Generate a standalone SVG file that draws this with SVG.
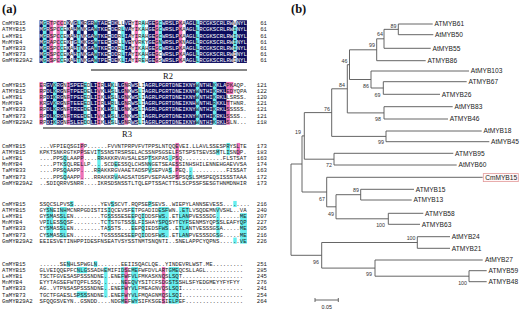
<svg xmlns="http://www.w3.org/2000/svg" width="520" height="310" viewBox="0 0 520 310">
<style>
.s{font-family:"Liberation Mono","Courier New",monospace;font-size:5.67px;fill:#1a1a1a}
.num{font-family:"Liberation Mono","Courier New",monospace;font-size:5.67px;fill:#1a1a1a;text-anchor:end}
.w{fill:#fff}
.n{fill:#0b0b5e}
.c{fill:#66eeee}
.p{fill:#ee70b8}
.pl{font-family:"Liberation Serif","Times New Roman",serif;font-weight:bold;font-size:12.5px;fill:#111}
.rl{font-family:"Liberation Serif","Times New Roman",serif;font-size:8.5px;fill:#111;text-anchor:middle}
.t{font-family:"Liberation Sans",Arial,sans-serif;font-size:6.6px;fill:#222}
.bs{font-family:"Liberation Sans",Arial,sans-serif;font-size:5.3px;fill:#333;text-anchor:end}
.br{stroke:#555;stroke-width:0.9;fill:none}
</style>
<rect width="520" height="310" fill="#fff"/>
<text class="pl" x="2" y="13">(a)</text>
<text class="pl" x="291" y="13">(b)</text>

<g id="alignment">
<g id="b1-hl">
<rect class="n" x="39.5" y="20.25" width="3.4" height="42.7"/>
<rect class="n" x="46.3" y="20.25" width="3.4" height="42.7"/>
<rect class="n" x="66.7" y="20.25" width="3.4" height="42.7"/>
<rect class="n" x="73.5" y="20.25" width="3.4" height="42.7"/>
<rect class="n" x="80.3" y="20.25" width="3.4" height="42.7"/>
<rect class="n" x="87.1" y="20.25" width="6.8" height="42.7"/>
<rect class="n" x="97.3" y="20.25" width="10.2" height="42.7"/>
<rect class="n" x="110.9" y="20.25" width="6.8" height="42.7"/>
<rect class="n" x="124.5" y="20.25" width="6.8" height="42.7"/>
<rect class="n" x="148.3" y="20.25" width="6.8" height="42.7"/>
<rect class="n" x="161.9" y="20.25" width="17" height="42.7"/>
<rect class="n" x="185.7" y="20.25" width="10.2" height="42.7"/>
<rect class="n" x="199.3" y="20.25" width="34" height="42.7"/>
<rect class="n" x="236.7" y="20.25" width="10.2" height="42.7"/>
<rect class="c" x="42.9" y="20.25" width="3.4" height="42.7"/>
<rect class="c" x="59.9" y="26.35" width="3.4" height="36.6"/>
<rect class="p" x="59.9" y="20.25" width="3.4" height="6.1"/>
<rect class="c" x="76.9" y="20.25" width="3.4" height="42.7"/>
<rect class="c" x="93.9" y="20.25" width="3.4" height="42.7"/>
<rect class="c" x="121.1" y="26.35" width="3.4" height="36.6"/>
<rect class="c" x="141.5" y="20.25" width="3.4" height="42.7"/>
<rect class="c" x="158.5" y="20.25" width="3.4" height="30.5"/>
<rect class="c" x="195.9" y="20.25" width="3.4" height="42.7"/>
<rect class="c" x="233.3" y="26.35" width="3.4" height="24.4"/>
<rect class="p" x="49.7" y="20.25" width="3.4" height="42.7"/>
<rect class="p" x="56.5" y="20.25" width="3.4" height="42.7"/>
<rect class="p" x="134.7" y="20.25" width="3.4" height="42.7"/>
<rect class="p" x="155.1" y="20.25" width="3.4" height="42.7"/>
<rect class="p" x="178.9" y="20.25" width="3.4" height="42.7"/>
</g>
<g id="b1-text">
<text class="s" x="2" y="25.3">CmMYB15</text>
<text class="s" x="2" y="31.4">ATMYB15</text>
<text class="s" x="2" y="37.5">LeMYB1</text>
<text class="s" x="2" y="43.6">MnMYB4</text>
<text class="s" x="2" y="49.7">TaMYB33</text>
<text class="s" x="2" y="55.8">TaMYB73</text>
<text class="s" x="2" y="61.9">GmMYB29A2</text>
<text class="s" x="39.5" y="25.3"><tspan class="w">M</tspan>G<tspan class="w">R</tspan>TPCCD<tspan class="w">K</tspan>V<tspan class="w">G</tspan>L<tspan class="w">K</tspan>R<tspan class="w">GR</tspan>W<tspan class="w">TAE</tspan>E<tspan class="w">DK</tspan>LL<tspan class="w">VE</tspan>YIRAH<tspan class="w">GE</tspan>GC<tspan class="w">WRSLP</tspan>KA<tspan class="w">AGL</tspan>L<tspan class="w">RCGKSCRLRW</tspan>V<tspan class="w">NYL</tspan></text>
<text class="s" x="39.5" y="31.4"><tspan class="w">M</tspan>G<tspan class="w">R</tspan>SPCCE<tspan class="w">K</tspan>A<tspan class="w">H</tspan>M<tspan class="w">N</tspan>K<tspan class="w">GA</tspan>W<tspan class="w">TKE</tspan>E<tspan class="w">DE</tspan>RL<tspan class="w">VA</tspan>YIKAH<tspan class="w">GE</tspan>GC<tspan class="w">WRSLP</tspan>KA<tspan class="w">AGL</tspan>L<tspan class="w">RCGKSCRLRW</tspan>I<tspan class="w">NYL</tspan></text>
<text class="s" x="39.5" y="37.5"><tspan class="w">M</tspan>G<tspan class="w">R</tspan>SPCCE<tspan class="w">K</tspan>A<tspan class="w">H</tspan>T<tspan class="w">N</tspan>K<tspan class="w">GA</tspan>W<tspan class="w">TKE</tspan>E<tspan class="w">DD</tspan>RL<tspan class="w">IA</tspan>YIRAH<tspan class="w">GE</tspan>GC<tspan class="w">WRSLP</tspan>KA<tspan class="w">AGL</tspan>L<tspan class="w">RCGKSCRLRW</tspan>I<tspan class="w">NYL</tspan></text>
<text class="s" x="39.5" y="43.6"><tspan class="w">M</tspan>G<tspan class="w">R</tspan>APCCE<tspan class="w">K</tspan>T<tspan class="w">G</tspan>L<tspan class="w">K</tspan>K<tspan class="w">GS</tspan>W<tspan class="w">TEE</tspan>E<tspan class="w">DR</tspan>LL<tspan class="w">VE</tspan>YVRKY<tspan class="w">GE</tspan>GN<tspan class="w">WRSLP</tspan>KN<tspan class="w">AGL</tspan>L<tspan class="w">RCGKSCRLRW</tspan>I<tspan class="w">NYL</tspan></text>
<text class="s" x="39.5" y="49.7"><tspan class="w">M</tspan>G<tspan class="w">R</tspan>SPCCE<tspan class="w">K</tspan>A<tspan class="w">H</tspan>T<tspan class="w">N</tspan>K<tspan class="w">GA</tspan>W<tspan class="w">TKE</tspan>E<tspan class="w">DQ</tspan>RL<tspan class="w">IA</tspan>YIKAH<tspan class="w">GE</tspan>GC<tspan class="w">WRSLP</tspan>KA<tspan class="w">AGL</tspan>L<tspan class="w">RCGKSCRLRW</tspan>I<tspan class="w">NYL</tspan></text>
<text class="s" x="39.5" y="55.8"><tspan class="w">M</tspan>G<tspan class="w">R</tspan>SPCCE<tspan class="w">K</tspan>A<tspan class="w">H</tspan>T<tspan class="w">N</tspan>K<tspan class="w">GA</tspan>W<tspan class="w">TKE</tspan>E<tspan class="w">DD</tspan>RL<tspan class="w">TA</tspan>YIKAH<tspan class="w">GE</tspan>GC<tspan class="w">WRSLP</tspan>KA<tspan class="w">AGL</tspan>L<tspan class="w">RCGKSCRLRW</tspan>I<tspan class="w">NYL</tspan></text>
<text class="s" x="39.5" y="61.9"><tspan class="w">M</tspan>G<tspan class="w">R</tspan>SPCCE<tspan class="w">K</tspan>A<tspan class="w">H</tspan>T<tspan class="w">N</tspan>K<tspan class="w">GA</tspan>W<tspan class="w">TPE</tspan>E<tspan class="w">DE</tspan>KL<tspan class="w">IA</tspan>YIREH<tspan class="w">GE</tspan>GS<tspan class="w">WRSLP</tspan>KA<tspan class="w">AGL</tspan>L<tspan class="w">RCGKSCRLRW</tspan>I<tspan class="w">NYL</tspan></text>
<text class="num" x="267" y="25.3">61</text>
<text class="num" x="267" y="31.4">61</text>
<text class="num" x="267" y="37.5">61</text>
<text class="num" x="267" y="43.6">61</text>
<text class="num" x="267" y="49.7">61</text>
<text class="num" x="267" y="55.8">61</text>
<text class="num" x="267" y="61.9">61</text>
</g>
<line x1="91" y1="70" x2="247" y2="70" stroke="#111" stroke-width="1.1"/>
<text class="rl" x="168" y="79">R2</text>

<g id="b2-hl">
<rect class="n" x="46.3" y="81.95" width="6.8" height="42.7"/>
<rect class="n" x="56.5" y="81.95" width="6.8" height="42.7"/>
<rect class="n" x="70.1" y="81.95" width="13.6" height="42.7"/>
<rect class="n" x="90.5" y="81.95" width="6.8" height="42.7"/>
<rect class="n" x="104.1" y="81.95" width="6.8" height="42.7"/>
<rect class="n" x="117.7" y="81.95" width="6.8" height="42.7"/>
<rect class="n" x="131.3" y="81.95" width="6.8" height="42.7"/>
<rect class="n" x="144.9" y="81.95" width="51" height="42.7"/>
<rect class="n" x="199.3" y="81.95" width="13.6" height="42.7"/>
<rect class="n" x="216.3" y="81.95" width="10.2" height="42.7"/>
<rect class="c" x="53.1" y="81.95" width="3.4" height="42.7"/>
<rect class="c" x="83.7" y="81.95" width="3.4" height="42.7"/>
<rect class="c" x="110.9" y="81.95" width="3.4" height="42.7"/>
<rect class="c" x="138.1" y="88.05" width="3.4" height="36.6"/>
<rect class="c" x="195.9" y="81.95" width="3.4" height="42.7"/>
<rect class="c" x="212.9" y="81.95" width="3.4" height="42.7"/>
<rect class="p" x="39.5" y="81.95" width="3.4" height="42.7"/>
<rect class="p" x="66.7" y="81.95" width="3.4" height="42.7"/>
<rect class="p" x="97.3" y="81.95" width="3.4" height="42.7"/>
<rect class="p" x="124.5" y="81.95" width="3.4" height="42.7"/>
<rect class="p" x="226.5" y="81.95" width="6.8" height="12.2"/>
<rect class="p" x="226.5" y="100.25" width="3.4" height="24.4"/>
</g>
<g id="b2-text">
<text class="s" x="2" y="87">CmMYB15</text>
<text class="s" x="2" y="93.1">ATMYB15</text>
<text class="s" x="2" y="99.2">LeMYB1</text>
<text class="s" x="2" y="105.3">MnMYB4</text>
<text class="s" x="2" y="111.4">TaMYB33</text>
<text class="s" x="2" y="117.5">TaMYB73</text>
<text class="s" x="2" y="123.6">GmMYB29A2</text>
<text class="s" x="39.5" y="87">ER<tspan class="w">GV</tspan>K<tspan class="w">RG</tspan>NI<tspan class="w">SPEE</tspan>ED<tspan class="w">LI</tspan>IR<tspan class="w">LH</tspan>KL<tspan class="w">LG</tspan>NR<tspan class="w">WS</tspan>LI<tspan class="w">AGRLPGRTDNEIKNY</tspan>W<tspan class="w">NTHL</tspan>K<tspan class="w">KLA</tspan>PKAQP.</text>
<text class="s" x="39.5" y="93.1">RP<tspan class="w">DL</tspan>K<tspan class="w">RG</tspan>NF<tspan class="w">TPEE</tspan>DE<tspan class="w">LI</tspan>VK<tspan class="w">LH</tspan>SL<tspan class="w">LG</tspan>NK<tspan class="w">WS</tspan>LI<tspan class="w">AGRLPGRTDNEIKNY</tspan>W<tspan class="w">NTHI</tspan>K<tspan class="w">RKL</tspan>EDYQPA</text>
<text class="s" x="39.5" y="99.2">RP<tspan class="w">DI</tspan>K<tspan class="w">RG</tspan>NF<tspan class="w">TPEE</tspan>ED<tspan class="w">LI</tspan>IK<tspan class="w">LH</tspan>SL<tspan class="w">LG</tspan>NK<tspan class="w">WS</tspan>LI<tspan class="w">AGRLPGRTDNEIKNY</tspan>W<tspan class="w">NTHI</tspan>K<tspan class="w">RKL</tspan>LSRSS.</text>
<text class="s" x="39.5" y="105.3">KR<tspan class="w">GV</tspan>K<tspan class="w">RG</tspan>NF<tspan class="w">TEEE</tspan>ED<tspan class="w">LI</tspan>IR<tspan class="w">LH</tspan>RL<tspan class="w">LG</tspan>NR<tspan class="w">WS</tspan>LI<tspan class="w">AGRLPGRTDNEIKNH</tspan>W<tspan class="w">NTHL</tspan>R<tspan class="w">KKL</tspan>TTHNR.</text>
<text class="s" x="39.5" y="111.4">RP<tspan class="w">DL</tspan>K<tspan class="w">RG</tspan>NF<tspan class="w">TREE</tspan>DE<tspan class="w">LI</tspan>IK<tspan class="w">LH</tspan>SL<tspan class="w">LG</tspan>NK<tspan class="w">WS</tspan>LI<tspan class="w">AGRLPGRTDNEIKNY</tspan>W<tspan class="w">NTHI</tspan>K<tspan class="w">RKL</tspan>SSSSS.</text>
<text class="s" x="39.5" y="117.5">RP<tspan class="w">DL</tspan>K<tspan class="w">RG</tspan>NF<tspan class="w">TREE</tspan>DE<tspan class="w">LI</tspan>VK<tspan class="w">LH</tspan>SL<tspan class="w">LG</tspan>NK<tspan class="w">WS</tspan>LI<tspan class="w">AGRLPGRTDNEIKNY</tspan>W<tspan class="w">NTHI</tspan>K<tspan class="w">RKL</tspan>SSSS..</text>
<text class="s" x="39.5" y="123.6">RP<tspan class="w">DI</tspan>K<tspan class="w">RG</tspan>NF<tspan class="w">SLEE</tspan>DD<tspan class="w">LI</tspan>IK<tspan class="w">LH</tspan>SL<tspan class="w">LG</tspan>NR<tspan class="w">WS</tspan>LI<tspan class="w">AGRLPGRTDNEIKNY</tspan>W<tspan class="w">NTHI</tspan>K<tspan class="w">RKL</tspan>SLN...</text>
<text class="num" x="267" y="87">121</text>
<text class="num" x="267" y="93.1">122</text>
<text class="num" x="267" y="99.2">120</text>
<text class="num" x="267" y="105.3">121</text>
<text class="num" x="267" y="111.4">121</text>
<text class="num" x="267" y="117.5">121</text>
<text class="num" x="267" y="123.6">118</text>
</g>
<line x1="43" y1="128" x2="212" y2="128" stroke="#111" stroke-width="1.1"/>
<text class="rl" x="127" y="136.5">R3</text>

<g id="b3-hl">
<rect class="p" x="80.3" y="142.95" width="3.4" height="36.6"/>
<rect class="c" x="63.3" y="155.15" width="3.4" height="24.4"/>
<rect class="c" x="97.3" y="149.05" width="3.4" height="24.4"/>
<rect class="c" x="114.3" y="161.25" width="3.4" height="6.1"/>
<rect class="c" x="114.3" y="173.45" width="3.4" height="6.1"/>
<rect class="c" x="148.3" y="155.15" width="3.4" height="18.3"/>
<rect class="c" x="168.7" y="155.15" width="3.4" height="6.1"/>
<rect class="c" x="168.7" y="167.35" width="3.4" height="6.1"/>
<rect class="p" x="175.5" y="142.95" width="3.4" height="36.6"/>
<rect class="c" x="189.1" y="167.35" width="3.4" height="12.2"/>
<rect class="c" x="216.3" y="149.05" width="3.4" height="6.1"/>
<rect class="c" x="226.5" y="142.95" width="3.4" height="12.2"/>
<rect class="p" x="236.7" y="142.95" width="3.4" height="12.2"/>
</g>
<g id="b3-text">
<text class="s" x="2" y="148">CmMYB15</text>
<text class="s" x="2" y="154.1">ATMYB15</text>
<text class="s" x="2" y="160.2">LeMYB1</text>
<text class="s" x="2" y="166.3">MnMYB4</text>
<text class="s" x="2" y="172.4">TaMYB33</text>
<text class="s" x="2" y="178.5">TaMYB73</text>
<text class="s" x="2" y="184.6">GmMYB29A2</text>
<text class="s" x="39.5" y="148">...VFPIEQSGIPP......FVVNTPRPVFVTPPSLNTQQEVEI.LLAVLSSESPRYSLTE</text>
<text class="s" x="39.5" y="154.1">KPKTSNKRGTKPPSEVITSSNSTRSRSELACSSNPSGSELFSTSPSTSEVSSMTLISNDP.</text>
<text class="s" x="39.5" y="160.2">....PPSQLAAPP....RRAKKRVAVSALESPTSKPAS.PSQ............FLSTSAT</text>
<text class="s" x="39.5" y="166.3">....PTKSQLRELLP....SCDEESSQLCHSNNGETSEAESSINHSHILENNEHGAEVVSA</text>
<text class="s" x="39.5" y="172.4">....PPSQAAPP....RRAKKRGVAAETADSPVSEPVAS.PEQ............FISSAT</text>
<text class="s" x="39.5" y="178.5">....PPSQAAPP....RRAKKRVAAGSATDSPVSEPAASPSPSQSLSMSPEQSISSSTAAA</text>
<text class="s" x="39.5" y="184.6">..SDIQRRVSNRR....IKRSDSNSSTLTQLEPTSSACTTSLSCPSSFSESGTHNMDNHIR</text>
<text class="num" x="267" y="148">173</text>
<text class="num" x="267" y="154.1">183</text>
<text class="num" x="267" y="160.2">163</text>
<text class="num" x="267" y="166.3">174</text>
<text class="num" x="267" y="172.4">163</text>
<text class="num" x="267" y="178.5">172</text>
<text class="num" x="267" y="184.6">173</text>
</g>

<g id="b4-hl">
<rect class="c" x="46.3" y="207.05" width="6.8" height="30.5"/>
<rect class="c" x="59.9" y="207.05" width="6.8" height="30.5"/>
<rect class="c" x="70.1" y="200.95" width="3.4" height="6.1"/>
<rect class="c" x="107.5" y="207.05" width="3.4" height="24.4"/>
<rect class="c" x="110.9" y="200.95" width="3.4" height="6.1"/>
<rect class="c" x="131.3" y="207.05" width="3.4" height="30.5"/>
<rect class="c" x="141.5" y="213.15" width="3.4" height="24.4"/>
<rect class="c" x="148.3" y="200.95" width="3.4" height="6.1"/>
<rect class="c" x="158.5" y="207.05" width="10.2" height="30.5"/>
<rect class="c" x="178.9" y="207.05" width="10.2" height="30.5"/>
<rect class="c" x="216.3" y="207.05" width="3.4" height="30.5"/>
<rect class="c" x="233.3" y="200.95" width="3.4" height="6.1"/>
<rect class="c" x="233.3" y="237.55" width="3.4" height="6.1"/>
<rect class="c" x="240.1" y="213.15" width="6.8" height="30.5"/>
</g>
<g id="b4-text">
<text class="s" x="2" y="206">CmMYB15</text>
<text class="s" x="2" y="212.1">ATMYB15</text>
<text class="s" x="2" y="218.2">LeMYB1</text>
<text class="s" x="2" y="224.3">MnMYB4</text>
<text class="s" x="2" y="230.4">TaMYB33</text>
<text class="s" x="2" y="236.5">TaMYB73</text>
<text class="s" x="2" y="242.6">GmMYB29A2</text>
<text class="s" x="39.5" y="206">SSQCSLPVSS........YEVSSCVT.RQPSEPSEVS..WIEPYLANNSEVESS........</text>
<text class="s" x="39.5" y="212.1">GYSNEINHMCNRPGDISTISIQCEVSFETPGADIDESFWN..ETLVSQDEMNVVSHL..VA</text>
<text class="s" x="39.5" y="218.2">GYSMASSLEN........TGSSSSESEEPQIDDSFWS..ETLANPVESSSDG.......ME</text>
<text class="s" x="39.5" y="224.3">VPILESSQSF........TCTSTGTSSSLFISHAYSPQSYTCYFSENMSYQPSSLEAFYQP</text>
<text class="s" x="39.5" y="230.4">CYSMASSLEN........TASSTS...EEPQIEDSFWS..ETLANTVESSSGSA.....ME</text>
<text class="s" x="39.5" y="236.5">CYSMASSLEN........TGSSSSESEEPQIDDSFWS..ETLANPVESSSDGSG.....ME</text>
<text class="s" x="39.5" y="242.6">EEIESVETINHPPIDESFNSEATVSYSSTNMTSNQNTI..SNELAPPCYQPNS......VE</text>
<text class="num" x="267" y="206">216</text>
<text class="num" x="267" y="212.1">240</text>
<text class="num" x="267" y="218.2">207</text>
<text class="num" x="267" y="224.3">227</text>
<text class="num" x="267" y="230.4">205</text>
<text class="num" x="267" y="236.5">216</text>
<text class="num" x="267" y="242.6">226</text>
</g>

<g id="b5-hl">
<rect class="c" x="66.7" y="260.95" width="3.4" height="6.1"/>
<rect class="c" x="93.9" y="260.95" width="3.4" height="6.1"/>
<rect class="c" x="76.9" y="267.05" width="10.2" height="6.1"/>
<rect class="c" x="76.9" y="291.45" width="10.2" height="6.1"/>
<rect class="c" x="104.1" y="267.05" width="3.4" height="30.5"/>
<rect class="c" x="121.1" y="267.05" width="3.4" height="36.6"/>
<rect class="p" x="124.5" y="267.05" width="3.4" height="36.6"/>
<rect class="c" x="131.3" y="267.05" width="6.8" height="36.6"/>
<rect class="p" x="161.9" y="267.05" width="3.4" height="36.6"/>
<rect class="c" x="168.7" y="267.05" width="10.2" height="36.6"/>
</g>
<g id="b5-text">
<text class="s" x="2" y="266">CmMYB15</text>
<text class="s" x="2" y="272.1">ATMYB15</text>
<text class="s" x="2" y="278.2">LeMYB1</text>
<text class="s" x="2" y="284.3">MnMYB4</text>
<text class="s" x="2" y="290.4">TaMYB33</text>
<text class="s" x="2" y="296.5">TaMYB73</text>
<text class="s" x="2" y="302.6">GmMYB29A2</text>
<text class="s" x="39.5" y="266">......SENHLSPWGLN.......EEIISQACLQE..YINDEVRLWST.ME.........</text>
<text class="s" x="39.5" y="272.1">GLVEIQQEPFCNLGSSADHEMIFIDSEMEFWFDVLARTGMEQCSLLAGL...........</text>
<text class="s" x="39.5" y="278.2">TSCTFGVESASPSSSNDNE..ENEFWFVLFMKASKNQSLSQT..................</text>
<text class="s" x="39.5" y="284.3">EYYTAGSEFWTQPFLSSQ......NEEQVYSITCFSDGSTSSHLSFYEDGMEYYFYFYY</text>
<text class="s" x="39.5" y="290.4">AG..VTPNSASPSSSNDNE..ENEFWYVLFMEAGNVQSLSQI..................</text>
<text class="s" x="39.5" y="296.5">TGCTFGAESLSPSSSNDNE..ENEFWYVLFMQAGNMQSLSQI..................</text>
<text class="s" x="39.5" y="302.6">SFQQGSVEYN..GSNDD....NDGMEFWYSIFKSGESIELPEF.................</text>
<text class="num" x="267" y="266">251</text>
<text class="num" x="267" y="272.1">285</text>
<text class="num" x="267" y="278.2">245</text>
<text class="num" x="267" y="284.3">276</text>
<text class="num" x="267" y="290.4">241</text>
<text class="num" x="267" y="296.5">254</text>
<text class="num" x="267" y="302.6">264</text>
</g>
</g>

<g id="connectors" class="br">
<path d="M398.3,24V34.7M398.3,24H432.7M398.3,34.7H433.3"/>
<path d="M384,29.35V48.3M384,29.35H398.3M384,48.3H430.7"/>
<path d="M376.7,38.8V60.7M376.7,38.8H384M376.7,60.7H425.7"/>
<path d="M383.3,81.7V94.3M383.3,81.7H466.7M383.3,94.3H440"/>
<path d="M371,71V88M371,71H469M371,88H383.3"/>
<path d="M349.5,49.8V79.5M349.5,49.8H376.7M349.5,79.5H371"/>
<path d="M384,106.7V119M384,106.7H452.7M384,119H448"/>
<path d="M347.3,64.7V112.9M347.3,64.7H349.5M347.3,112.9H384"/>
<path d="M386,131V141.7M386,131H481.7M386,141.7H489.3"/>
<path d="M331.7,88.8V136.4M331.7,88.8H347.3M331.7,136.4H386"/>
<path d="M334,153.3V165M334,153.3H453.3M334,165H456.7"/>
<path d="M304.3,112.6V159.2M304.3,112.6H331.7M304.3,159.2H334"/>
<path d="M360.7,189.3V200M360.7,189.3H414M360.7,200H411.7"/>
<path d="M388.3,213.3V224.3M388.3,213.3H423.3M388.3,224.3H420"/>
<path d="M336,194.7V218.8M336,194.7H360.7M336,218.8H388.3"/>
<path d="M326.7,177.3V206.8M326.7,177.3H482.7M326.7,206.8H336"/>
<path d="M302,135.9V192M302,135.9H304.3M302,192H326.7"/>
<path d="M417.3,236.7V248.3M417.3,236.7H450M417.3,248.3H450"/>
<path d="M469,270.7V281.7M469,270.7H486.7M469,281.7H486.7"/>
<path d="M375,260V276.2M375,260H482.7M375,276.2H469"/>
<path d="M321.7,242.5V268.1M321.7,242.5H417.3M321.7,268.1H375"/>
<path d="M291,164V255.3M291,164H302M291,255.3H321.7"/>
</g>

<g id="bootstrap">
<text class="bs" x="396.5" y="27.5">89</text>
<text class="bs" x="383" y="35.5">64</text>
<text class="bs" x="375" y="47">99</text>
<text class="bs" x="347.5" y="62.5">46</text>
<text class="bs" x="369" y="88">86</text>
<text class="bs" x="380.5" y="97">69</text>
<text class="bs" x="345" y="87">84</text>
<text class="bs" x="330" y="110.5">76</text>
<text class="bs" x="381" y="120.5">98</text>
<text class="bs" x="301" y="134">19</text>
<text class="bs" x="384" y="144">99</text>
<text class="bs" x="332" y="167">72</text>
<text class="bs" x="359" y="192">89</text>
<text class="bs" x="325" y="201">67</text>
<text class="bs" x="334" y="215.5">49</text>
<text class="bs" x="385" y="227">100</text>
<text class="bs" x="415.5" y="240">100</text>
<text class="bs" x="319" y="264">96</text>
<text class="bs" x="372" y="276">99</text>
<text class="bs" x="467" y="285">100</text>
</g>

<g id="leaf-ATMYB61"><text class="t" x="434.5" y="26.3">ATMYB61</text></g>
<g id="leaf-AtMYB50"><text class="t" x="435" y="37">AtMYB50</text></g>
<g id="leaf-AtMYB55"><text class="t" x="432.5" y="50.6">AtMYB55</text></g>
<g id="leaf-ATMYB86"><text class="t" x="427.5" y="63">ATMYB86</text></g>
<g id="leaf-AtMYB103"><text class="t" x="470.8" y="73.3">AtMYB103</text></g>
<g id="leaf-ATMYB67"><text class="t" x="468.5" y="84">ATMYB67</text></g>
<g id="leaf-ATMYB26"><text class="t" x="441.8" y="96.6">ATMYB26</text></g>
<g id="leaf-AtMYB83"><text class="t" x="454.5" y="109">AtMYB83</text></g>
<g id="leaf-ATMYB46"><text class="t" x="449.8" y="121.3">ATMYB46</text></g>
<g id="leaf-AtMYB18"><text class="t" x="483.5" y="133.3">AtMYB18</text></g>
<g id="leaf-AtMYB45"><text class="t" x="491" y="144">AtMYB45</text></g>
<g id="leaf-ATMYB95"><text class="t" x="455" y="155.6">ATMYB95</text></g>
<g id="leaf-AtMYB60"><text class="t" x="458.5" y="167.3">AtMYB60</text></g>
<g id="leaf-CmMYB15"><rect x="483.3" y="173.6" width="35" height="8" fill="#fff8f8" stroke="#e39a9a" stroke-width="0.8"/><text class="t" x="485.2" y="179.8">CmMYB15</text></g>
<g id="leaf-ATMYB15"><text class="t" x="415.8" y="191.6">ATMYB15</text></g>
<g id="leaf-ATMYB13"><text class="t" x="413.5" y="202.3">ATMYB13</text></g>
<g id="leaf-ATMYB58"><text class="t" x="425.1" y="215.6">ATMYB58</text></g>
<g id="leaf-ATMYB63"><text class="t" x="421.8" y="226.6">ATMYB63</text></g>
<g id="leaf-AtMYB24"><text class="t" x="451.8" y="239">AtMYB24</text></g>
<g id="leaf-ATMYB21"><text class="t" x="451.8" y="250.6">ATMYB21</text></g>
<g id="leaf-AtMYB27"><text class="t" x="485" y="262.3">AtMYB27</text></g>
<g id="leaf-ATMYB59"><text class="t" x="488.5" y="273">ATMYB59</text></g>
<g id="leaf-ATMYB48"><text class="t" x="488.5" y="284">ATMYB48</text></g>

<g id="scale-bar">
<path class="br" d="M315,300H338.3M315,298V302M338.3,298V302"/>
<text class="t" x="326.7" y="309" text-anchor="middle" style="font-size:5.3px">0.05</text>
</g>
</svg>
